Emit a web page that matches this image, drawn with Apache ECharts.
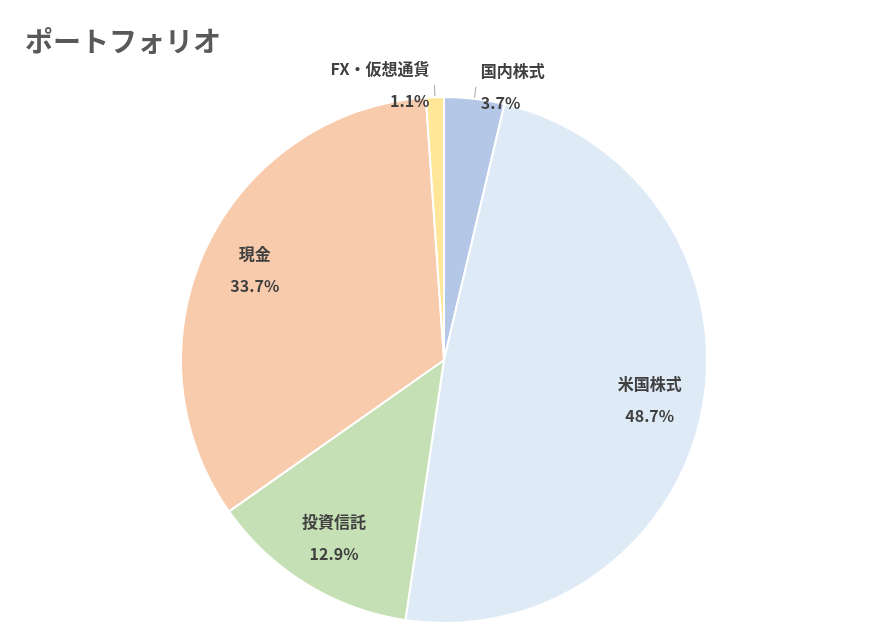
<!DOCTYPE html>
<html><head><meta charset="utf-8">
<script src="https://cdn.jsdelivr.net/npm/echarts@6/dist/echarts.min.js"></script>
<style>html,body{margin:0;padding:0;background:#fff}#c{width:888px;height:640px}</style>
</head><body><div id="c"></div>
<script>
const categories = ['国内株式','米国株式','投資信託','現金','FX・仮想通貨'];
const values = [3.7, 48.7, 12.9, 33.7, 1.1];
const colors = ['#b4c7e7','#deebf7','#c5e0b4','#f8cbad','#ffe699'];
const outside = ['国内株式','FX・仮想通貨'];
const font = '"Noto Sans CJK JP", sans-serif';
const chart = echarts.init(document.getElementById('c'));
const lbl = {fontFamily:font, fontSize:16, fontWeight:'bold', color:'#404040', lineHeight:32,
  formatter: p => p.name + '\n' + p.value.toFixed(1) + '%'};
chart.setOption({
  animation:false,
  title:{text:'ポートフォリオ', left:20, top:22, textStyle:{fontFamily:font, fontSize:28, fontWeight:'bold', color:'#595959'}},
  series:[
    {type:'pie', center:[444,360], radius:[0,263], startAngle:90, clockwise:true,
     itemStyle:{borderColor:'#fff', borderWidth:2},
     label:Object.assign({}, lbl, {position:'outside'}),
     labelLine:{length:12, length2:0, lineStyle:{color:'#a6a6a6', width:1}},
     data: categories.map((n,i)=>({name:n, value:values[i], itemStyle:{color:colors[i]},
       label: outside.includes(n)?{show:true}:{show:false}, labelLine:{show:outside.includes(n)}}))},
    {type:'pie', center:[444,360], radius:[150,263], startAngle:90, clockwise:true, silent:true,
     itemStyle:{color:'transparent'},
     label:Object.assign({}, lbl, {position:'inner'}),
     labelLine:{show:false},
     data: categories.map((n,i)=>({name:n, value:values[i], label:{show:!outside.includes(n)}}))}
  ]
});
</script></body></html>
